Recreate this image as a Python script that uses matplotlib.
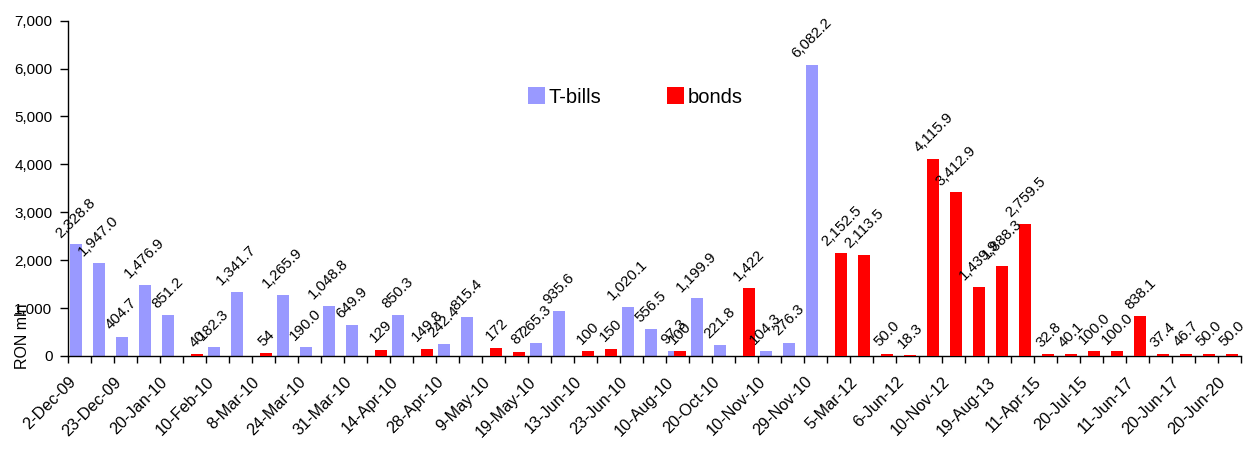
import numpy as np
import matplotlib.pyplot as plt
from matplotlib.transforms import ScaledTranslation
from matplotlib.ticker import FuncFormatter

plt.rcParams['font.family'] = ['Liberation Sans', 'DejaVu Sans']

# auction dates shown on the axis (every second auction is labelled)
tick_labels = ['2-Dec-09', '23-Dec-09', '20-Jan-10', '10-Feb-10', '8-Mar-10',
               '24-Mar-10', '31-Mar-10', '14-Apr-10', '28-Apr-10', '9-May-10',
               '19-May-10', '13-Jun-10', '23-Jun-10', '10-Aug-10', '20-Oct-10',
               '10-Nov-10', '29-Nov-10', '5-Mar-12', '6-Jun-12', '10-Nov-12',
               '19-Aug-13', '11-Apr-15', '20-Jul-15', '11-Jun-17', '20-Jun-17',
               '20-Jun-20']
n_auctions = 51

# amounts sold, RON mln (None = no issue of that type on the date)
tbills = [2328.8, 1947.0, 404.7, 1476.9, 851.2, None, 182.3, 1341.7, None, 1265.9,
          190.0, 1048.8, 649.9, None, 850.3, None, 242.4, 815.4, None, None,
          265.3, 935.6, None, None, 1020.1, 556.5, 97.3, 1199.9, 221.8, None,
          104.3, 276.3, 6082.2, None, None, None, None, None, None, None,
          None, None, None, None, None, None, None, None, None, None, None]
bonds = [None, None, None, None, None, 40, None, None, 54, None,
         None, None, None, 129, None, 149.8, None, None, 172, 87,
         None, None, 100, 150, None, None, 100, None, None, 1422,
         None, None, None, 2152.5, 2113.5, 50.0, 18.3, 4115.9, 3412.9, 1439.9,
         1888.3, 2759.5, 32.8, 40.1, 100.0, 100.0, 838.1, 37.4, 46.7, 50.0, 50.0]
# decimals used in the bond labels
bond_dec = [0] * 15 + [1] + [0] * 14 + [1] * 21

x = np.arange(n_auctions)
w = 0.52

fig = plt.figure(figsize=(12.54, 4.5), dpi=100)
ax = fig.add_axes([0.054, 0.209, 0.9354, 0.745])


def draw(vals, dx, color, decs, z):
    xs = [x[i] + dx for i, v in enumerate(vals) if v is not None]
    ys = [v for v in vals if v is not None]
    ds = [decs[i] for i, v in enumerate(vals) if v is not None]
    bars = ax.bar(xs, ys, width=w, color=color, zorder=z)
    for xi, yi, d in zip(xs, ys, ds):
        ax.annotate(f'{yi:,.{d}f}', (xi, yi), xytext=(0, 3),
                    textcoords='offset points', rotation=45,
                    ha='center', va='bottom', fontsize=10.8, zorder=5)
    return bars


b1 = draw(tbills, -0.16, '#9999ff', [1] * n_auctions, 2)
b2 = draw(bonds, 0.14, '#ff0000', bond_dec, 3)

ax.set_xlim(-0.5, n_auctions - 0.5)
ax.set_ylim(0, 7000)
ax.set_yticks(np.arange(0, 7001, 1000))
ax.yaxis.set_major_formatter(FuncFormatter(lambda v, p: f'{v:,.0f}'))
ax.tick_params(axis='y', length=6, width=1, pad=5, labelsize=11)

# labels on every second auction, tick marks between categories
ax.set_xticks(x[::2])
ax.set_xticklabels(tick_labels, rotation=45, ha='right', va='center',
                   rotation_mode='anchor', fontsize=11.7)
ax.set_xticks(np.arange(-0.5, n_auctions), minor=True)
ax.tick_params(axis='x', which='major', length=0, pad=17)
ax.tick_params(axis='x', which='minor', length=5, width=1)
shift = ScaledTranslation(-6 / 100, 0, fig.dpi_scale_trans)
for lab in ax.get_xticklabels():
    lab.set_transform(lab.get_transform() + shift)

for s in ['top', 'right']:
    ax.spines[s].set_visible(False)
ax.spines['left'].set_linewidth(1)
ax.spines['bottom'].set_linewidth(1)

ax.set_ylabel('RON mln', fontsize=11.5)
ax.yaxis.set_label_coords(-0.032, 0.06)

fig.legend([b1, b2], ['T-bills', 'bonds'], loc='center left',
           bbox_to_anchor=(528 / 1254, 1 - 97 / 450), ncol=2, frameon=False,
           fontsize=14.5, handlelength=0.85, handleheight=0.85,
           handletextpad=0.15, columnspacing=3.3, borderpad=0, borderaxespad=0)

fig.savefig('out.png', dpi=100)
